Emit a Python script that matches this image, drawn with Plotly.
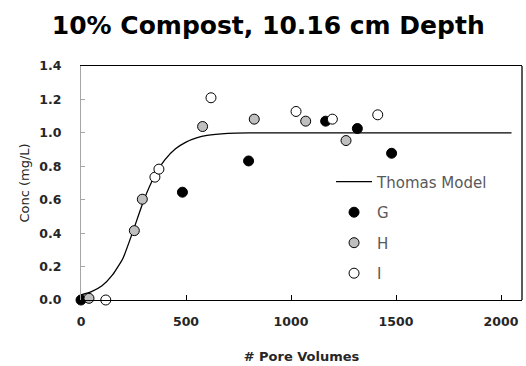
import plotly.graph_objects as go

# Observed data (pore volumes, concentration mg/L)
g_x = [0, 483, 798, 1165, 1316, 1479]
g_y = [0.0, 0.645, 0.832, 1.07, 1.026, 0.878]
h_x = [38, 254, 292, 579, 825, 1070, 1262]
h_y = [0.01, 0.415, 0.603, 1.038, 1.082, 1.07, 0.954]
i_x = [118, 352, 371, 619, 1024, 1197, 1413]
i_y = [0.0, 0.735, 0.783, 1.21, 1.128, 1.082, 1.108]

# Thomas model curve
model_x = [0, 50, 100, 150, 200, 250, 300, 350, 400, 450, 500, 550, 600, 700, 800, 2050]
model_y = [0.03, 0.05, 0.085, 0.15, 0.25, 0.42, 0.6, 0.74, 0.84, 0.905, 0.945, 0.97, 0.985, 0.997, 1.0, 1.0]

x_ticks = [0, 500, 1000, 1500, 2000]
y_ticks = [0.0, 0.2, 0.4, 0.6, 0.8, 1.0, 1.2, 1.4]

FONT = "DejaVu Sans"
TXT = "#262626"
fig = go.Figure()
fig.add_trace(go.Scatter(x=model_x, y=model_y, mode="lines", name="Thomas Model",
                         line=dict(color="black", width=1.3, shape="spline", smoothing=0.5),
                         legendgroup="a"))
mk = dict(size=10, line=dict(color="black", width=1))
fig.add_trace(go.Scatter(x=g_x, y=g_y, mode="markers", name="G", legendgroup="b",
                         marker=dict(color="black", **mk), cliponaxis=False))
fig.add_trace(go.Scatter(x=h_x, y=h_y, mode="markers", name="H", legendgroup="c",
                         marker=dict(color="#bfbfbf", **mk), cliponaxis=False))
fig.add_trace(go.Scatter(x=i_x, y=i_y, mode="markers", name="I", legendgroup="d",
                         marker=dict(color="white", **mk), cliponaxis=False))

fig.update_layout(
    width=526, height=366,
    margin=dict(l=81, r=4, t=66, b=66, autoexpand=False),
    paper_bgcolor="white", plot_bgcolor="white",
    title=dict(text="<b>10% Compost, 10.16 cm Depth</b>", x=0.51, xanchor="center",
               y=0.932, yanchor="middle", font=dict(family=FONT, size=25, color="black")),
    font=dict(family=FONT, color=TXT),
    legend=dict(x=0.567, y=0.575, xanchor="left", yanchor="top", bgcolor="rgba(0,0,0,0)",
                itemwidth=36,
                font=dict(family=FONT, size=15, color="#595959"), tracegroupgap=8),
    showlegend=True,
)
fig.update_xaxes(range=[0, 2100], tickvals=x_ticks, ticks="inside", ticklen=5,
                 tickcolor="black", showgrid=False, zeroline=False,
                 showline=True, linecolor="black", linewidth=1.3, mirror=True,
                 ticklabelstandoff=10,
                 tickfont=dict(family=FONT, size=12.5, color=TXT, weight="bold"),
                 title=dict(text="<b># Pore Volumes</b>", font=dict(family=FONT, size=13, color=TXT),
                            standoff=23))
fig.update_yaxes(range=[0, 1.4], tickvals=y_ticks, tickformat=".1f", ticks="inside", ticklen=4,
                 tickcolor="#a6a6a6", showgrid=False, zeroline=False,
                 showline=True, linecolor="#a6a6a6", linewidth=1.3,
                 ticklabelstandoff=16,
                 tickfont=dict(family=FONT, size=12.5, color=TXT, weight="bold"),
                 title=dict(text="Conc (mg/L)", font=dict(family=FONT, size=13, color=TXT),
                            standoff=6))
fig.add_shape(type="line", xref="paper", yref="paper", x0=1, x1=1, y0=0, y1=1,
              line=dict(color="black", width=1.3))
fig.write_html("out.html", config={"displayModeBar": False},
               post_script="document.body.style.margin='0';")
